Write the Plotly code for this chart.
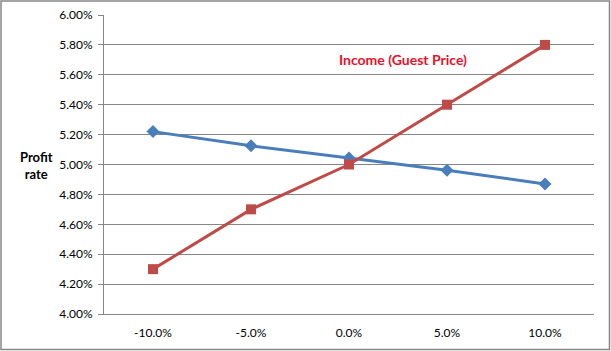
import plotly.graph_objects as go

categories = ["-10.0%", "-5.0%", "0.0%", "5.0%", "10.0%"]
blue_series = [0.0522, 0.05125, 0.05043, 0.04962, 0.0487]
red_series = [0.0430, 0.0470, 0.0500, 0.0540, 0.0580]
y_ticks = [0.04, 0.042, 0.044, 0.046, 0.048, 0.05, 0.052, 0.054, 0.056, 0.058, 0.06]

W, H = 611, 351
L, R, T, B = 104, 17, 15, 37
pw, ph = W - L - R, H - T - B

fig = go.Figure()
fig.add_trace(go.Scatter(x=categories, y=blue_series, mode="lines+markers",
                         line=dict(color="#4a7ebb", width=3),
                         marker=dict(symbol="diamond", size=10, color="#4a7ebb"),
                         showlegend=False))
fig.add_trace(go.Scatter(x=categories, y=red_series, mode="lines+markers",
                         line=dict(color="#be4b48", width=3),
                         marker=dict(symbol="square", size=10, color="#be4b48"),
                         showlegend=False))

font_family = "Lato, 'Open Sans', sans-serif"
fig.update_layout(
    width=W, height=H,
    margin=dict(l=L, r=R, t=T, b=B),
    paper_bgcolor="white", plot_bgcolor="white",
    font=dict(family=font_family, size=12, color="#000000"),
    xaxis=dict(type="category", showgrid=False, showline=True, linecolor="#868686",
               linewidth=1, ticks="", tickfont=dict(size=12), range=[-0.5, 4.5],
               automargin=False, ticklabelstandoff=8),
    yaxis=dict(range=[0.04, 0.06], tickvals=y_ticks, tickformat=".2%",
               showgrid=True, gridcolor="#868686", gridwidth=1,
               showline=True, linecolor="#868686", linewidth=1,
               ticks="outside", ticklen=5, tickcolor="#868686",
               tickfont=dict(size=12), zeroline=False,
               automargin=False, ticklabelstandoff=3),
    annotations=[
        dict(text="<b>Income (Guest Price)</b>", x=(337 - L) / pw, y=(H - B - 59) / ph,
             xref="paper", yref="paper",
             xanchor="left", yanchor="middle", showarrow=False,
             font=dict(color="#e8102a", size=14, family=font_family)),
        dict(text="<b>Profit<br>rate</b>", x=(36 - L) / pw, y=(H - B - 165) / ph,
             xref="paper", yref="paper", xanchor="center", yanchor="middle",
             showarrow=False, align="center", font=dict(size=13, family=font_family)),
    ],
    shapes=[
        dict(type="rect", xref="paper", yref="paper",
             x0=(1 - L) / pw, x1=(W - 1.5 - L) / pw,
             y0=-(B - 1.5) / ph, y1=1 + (T - 1) / ph,
             line=dict(color="#868686", width=1.5)),
    ],
)

fig.write_html("out.html")
